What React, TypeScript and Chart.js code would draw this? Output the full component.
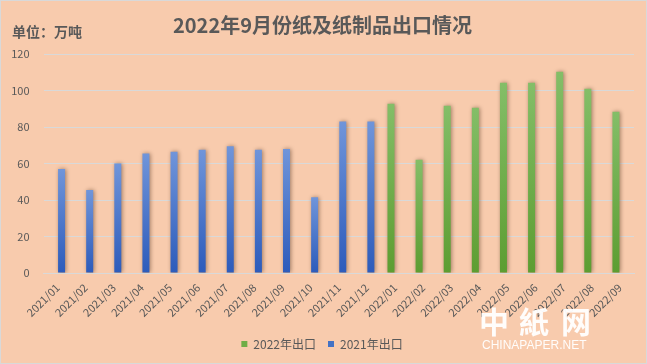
import React, { useEffect, useRef } from 'react';
import { Chart, registerables } from 'chart.js';

Chart.register(...registerables);

const title = '2022年9月份纸及纸制品出口情况';
const unitLabel = '单位：万吨';
const categories = [
  '2021/01', '2021/02', '2021/03', '2021/04', '2021/05', '2021/06', '2021/07',
  '2021/08', '2021/09', '2021/10', '2021/11', '2021/12',
  '2022/01', '2022/02', '2022/03', '2022/04', '2022/05', '2022/06', '2022/07',
  '2022/08', '2022/09',
];
const seriesNames = ['2022年出口', '2021年出口'];
const exports2022 = [
  null, null, null, null, null, null, null, null, null, null, null, null,
  92.7, 62, 91.6, 90.6, 104.3, 104.3, 110.3, 101, 88.4,
];
const exports2021 = [
  57, 45.5, 60, 65.5, 66.5, 67.5, 69.5, 67.5, 68, 41.5, 83, 83,
  null, null, null, null, null, null, null, null, null,
];
const yMin = 0;
const yMax = 120;
const yStep = 20;

const FONT = '"Noto Sans CJK SC", "Noto Sans", sans-serif';
const TEXT = '#595959';
const BG = '#F8CBAD';

const gradient = (top: string, bottom: string) => (ctx: any) => {
  const chart = ctx.chart;
  const v = ctx.raw;
  const ys = chart.scales && chart.scales.y;
  if (!chart.chartArea || !ys || v == null) return bottom;
  const y0 = ys.getPixelForValue(0);
  const y1 = ys.getPixelForValue(v);
  if (!isFinite(y0) || !isFinite(y1) || y0 === y1) return bottom;
  const g = chart.ctx.createLinearGradient(0, y1, 0, y0);
  g.addColorStop(0, top);
  g.addColorStop(1, bottom);
  return g;
};

const bgPlugin = {
  id: 'bg',
  beforeDraw(chart: any) {
    const c = chart.ctx;
    c.save();
    c.fillStyle = BG;
    c.fillRect(0, 0, chart.width, chart.height);
    c.restore();
  },
};

const shadowPlugin = {
  id: 'barShadow',
  beforeDatasetsDraw(chart: any) {
    const c = chart.ctx;
    c.save();
    c.shadowColor = 'rgba(70,40,20,0.5)';
    c.shadowBlur = 4;
    c.shadowOffsetX = 1;
    c.shadowOffsetY = 0;
  },
  afterDatasetsDraw(chart: any) {
    chart.ctx.restore();
  },
};

const decorPlugin = {
  id: 'decor',
  afterDraw(chart: any) {
    const c = chart.ctx;
    c.save();
    c.fillStyle = TEXT;
    c.textBaseline = 'middle';
    c.textAlign = 'center';
    c.font = `bold 20px ${FONT}`;
    c.fillText(title, 322.5, 25);
    c.textAlign = 'left';
    c.font = `bold 14px ${FONT}`;
    c.fillText(unitLabel, 12, 31.5);

    // watermark
    c.fillStyle = 'rgba(255,255,255,0.95)';
    c.textAlign = 'center';
    c.font = `bold 30px ${FONT}`;
    c.fillText('中', 494, 322);
    c.fillText('紙', 534, 322);
    c.fillText('网', 576, 322);
    c.textAlign = 'left';
    c.font = `12px "Liberation Sans", Arial, sans-serif`;
    c.fillText('CHINAPAPER.NET', 482, 346);

    // border
    c.strokeStyle = '#d9d9d9';
    c.lineWidth = 1;
    c.strokeRect(0.5, 0.5, chart.width - 1, chart.height - 1);
    c.restore();
  },
};

export default function App() {
  const ref = useRef<HTMLCanvasElement | null>(null);

  useEffect(() => {
    document.body.style.margin = '0';
    const canvas = ref.current;
    if (!canvas) return;
    const chart = new Chart(canvas, {
      type: 'bar',
      data: {
        labels: categories,
        datasets: [
          {
            label: seriesNames[0],
            data: exports2022,
            backgroundColor: gradient('#84be68', '#5c9d31'),
            categoryPercentage: 0.57,
            barPercentage: 0.875,
          },
          {
            label: seriesNames[1],
            data: exports2021,
            backgroundColor: gradient('#7095da', '#2c5bbb'),
            categoryPercentage: 0.57,
            barPercentage: 0.875,
          },
        ],
      },
      options: {
        responsive: false,
        animation: false,
        devicePixelRatio: 1,
        layout: { padding: { top: 54, left: 10, right: 13, bottom: 4 } },
        plugins: {
          title: { display: false },
          tooltip: { enabled: false },
          legend: {
            display: true,
            position: 'bottom',
            labels: {
              boxWidth: 6,
              boxHeight: 6,
              padding: 12,
              color: TEXT,
              font: { family: FONT, size: 12 },
              generateLabels: (ch: any) =>
                ch.data.datasets.map((ds: any, i: number) => ({
                  text: ds.label,
                  fillStyle: i === 0 ? '#70ad47' : '#4472c4',
                  strokeStyle: i === 0 ? '#70ad47' : '#4472c4',
                  lineWidth: 0,
                  fontColor: TEXT,
                  datasetIndex: i,
                  hidden: false,
                })),
            },
          },
        },
        scales: {
          x: {
            grid: { display: false, drawTicks: false },
            border: { display: true, color: '#d9d9d9', width: 1 },
            ticks: {
              color: TEXT,
              font: { family: FONT, size: 11 },
              minRotation: 45,
              maxRotation: 45,
              autoSkip: false,
              padding: 8,
            },
            afterFit: (s: any) => {
              s.height = 53;
            },
          },
          y: {
            min: yMin,
            max: yMax,
            grid: { color: '#d9d9d9', lineWidth: 1, drawTicks: false },
            border: { display: false },
            ticks: {
              stepSize: yStep,
              color: TEXT,
              font: { family: FONT, size: 11 },
              padding: 14,
            },
            afterFit: (s: any) => {
              s.width = 33.5;
            },
          },
        },
      },
      plugins: [bgPlugin, shadowPlugin, decorPlugin],
    } as any);
    return () => chart.destroy();
  }, []);

  return (
    <div style={{ width: 647, height: 364 }}>
      <canvas ref={ref} width={647} height={364} style={{ display: 'block', width: 647, height: 364 }} />
    </div>
  );
}
